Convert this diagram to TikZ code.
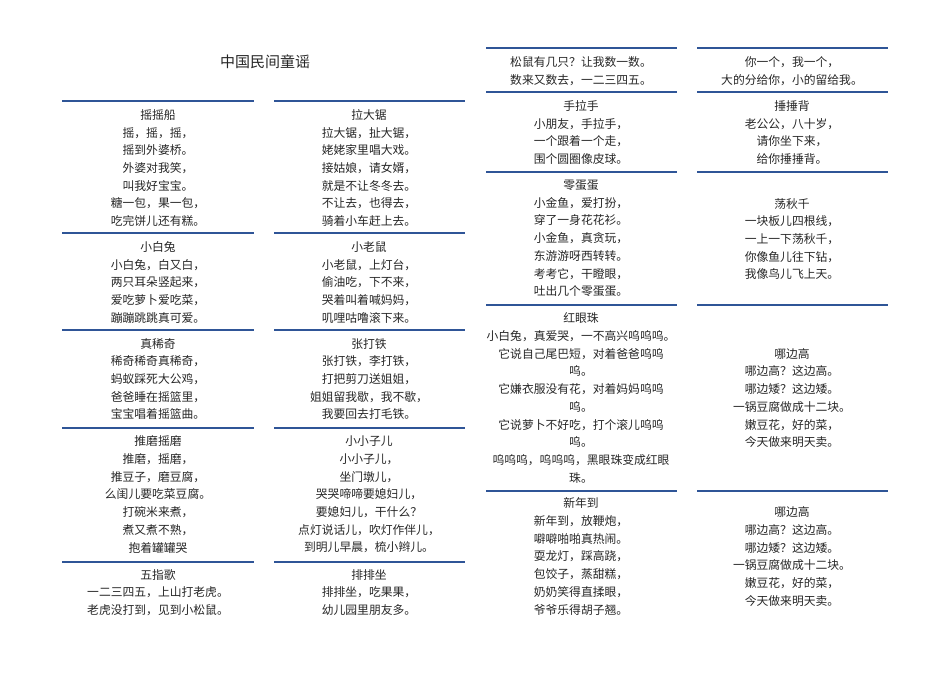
\documentclass[tikz,border=0pt]{standalone}
\usepackage{fontspec}
\setmainfont{Noto Sans CJK SC}
\definecolor{rule}{HTML}{2F5597}
\tikzset{poem/.style={align=center,inner sep=0pt,font=\fontsize{11.8}{17.7}\selectfont,text=black!85},
rl/.style={draw=rule,line width=1.1pt}}
\begin{document}
\begin{tikzpicture}[x=1pt,y=-1pt]
\useasboundingbox (0,0) rectangle (950,672);
\node[font=\fontsize{15}{17}\selectfont,text=black!85] (title) at (265,62) {中国民间童谣};
% rules
\foreach \y [count=\i] in {101,233,330,428,562}{
 \draw[rl] (62,\y) coordinate (a\i) -- (254,\y) coordinate (b\i);
 \draw[rl] (274,\y) coordinate (c\i) -- (465,\y) coordinate (d\i);}
\foreach \y [count=\i] in {48,92,172,305,491}{
 \draw[rl] (486,\y) coordinate (e\i) -- (677,\y) coordinate (f\i);
 \draw[rl] (697,\y) coordinate (g\i) -- (888,\y) coordinate (h\i);}
% column 1
\node[poem] (p1) at (158,168) {摇摇船\\摇，摇，摇，\\摇到外婆桥。\\外婆对我笑，\\叫我好宝宝。\\糖一包，果一包，\\吃完饼儿还有糕。};
\node[poem] (p2) at (158,282.5) {小白兔\\小白兔，白又白，\\两只耳朵竖起来，\\爱吃萝卜爱吃菜，\\蹦蹦跳跳真可爱。};
\node[poem] (p3) at (158,379) {真稀奇\\稀奇稀奇真稀奇，\\蚂蚁踩死大公鸡，\\爸爸睡在摇篮里，\\宝宝唱着摇篮曲。};
\node[poem] (p4) at (158,494.5) {推磨摇磨\\推磨，摇磨，\\推豆子，磨豆腐，\\么闺儿要吃菜豆腐。\\打碗米来煮，\\煮又煮不熟，\\抱着罐罐哭};
\node[poem] (p5) at (158,592.5) {五指歌\\一二三四五，上山打老虎。\\老虎没打到，见到小松鼠。};
% column 2
\node[poem] (q1) at (369,168) {拉大锯\\拉大锯，扯大锯，\\姥姥家里唱大戏。\\接姑娘，请女婿，\\就是不让冬冬去。\\不让去，也得去，\\骑着小车赶上去。};
\node[poem] (q2) at (369,282.5) {小老鼠\\小老鼠，上灯台，\\偷油吃，下不来，\\哭着叫着喊妈妈，\\叽哩咕噜滚下来。};
\node[poem] (q3) at (369,379) {张打铁\\张打铁，李打铁，\\打把剪刀送姐姐，\\姐姐留我歇，我不歇，\\我要回去打毛铁。};
\node[poem] (q4) at (369,494.5) {小小子儿\\小小子儿，\\坐门墩儿，\\哭哭啼啼要媳妇儿，\\要媳妇儿，干什么？\\点灯说话儿，吹灯作伴儿，\\到明儿早晨，梳小辫儿。};
\node[poem] (q5) at (369,592.5) {排排坐\\排排坐，吃果果，\\幼儿园里朋友多。};
% column 3
\node[poem] (r1) at (581,71) {松鼠有几只？让我数一数。\\数来又数去，一二三四五。};
\node[poem] (r2) at (581,132.5) {手拉手\\小朋友，手拉手，\\一个跟着一个走，\\围个圆圈像皮球。};
\node[poem] (r3) at (581,238.5) {零蛋蛋\\小金鱼，爱打扮，\\穿了一身花花衫。\\小金鱼，真贪玩，\\东游游呀西转转。\\考考它，干瞪眼，\\吐出几个零蛋蛋。};
\node[poem] (r4) at (581,398) {红眼珠\\小白兔，真爱哭，一不高兴呜呜呜。\\它说自己尾巴短，对着爸爸呜呜\\呜。\\它嫌衣服没有花，对着妈妈呜呜\\呜。\\它说萝卜不好吃，打个滚儿呜呜\\呜。\\呜呜呜，呜呜呜，黑眼珠变成红眼\\珠。};
\node[poem] (r5) at (581,556.5) {新年到\\新年到，放鞭炮，\\噼噼啪啪真热闹。\\耍龙灯，踩高跷，\\包饺子，蒸甜糕，\\奶奶笑得直揉眼，\\爷爷乐得胡子翘。};
% column 4
\node[poem] (s1) at (792,71) {你一个，我一个，\\大的分给你，小的留给我。};
\node[poem] (s2) at (792,132.5) {捶捶背\\老公公，八十岁，\\请你坐下来，\\给你捶捶背。};
\node[poem] (s3) at (792,239) {荡秋千\\一块板儿四根线，\\一上一下荡秋千，\\你像鱼儿往下钻，\\我像鸟儿飞上天。};
\node[poem] (s4) at (792,398) {哪边高\\哪边高？这边高。\\哪边矮？这边矮。\\一锅豆腐做成十二块。\\嫩豆花，好的菜，\\今天做来明天卖。};
\node[poem] (s5) at (792,556.5) {哪边高\\哪边高？这边高。\\哪边矮？这边矮。\\一锅豆腐做成十二块。\\嫩豆花，好的菜，\\今天做来明天卖。};
\end{tikzpicture}
\end{document}
